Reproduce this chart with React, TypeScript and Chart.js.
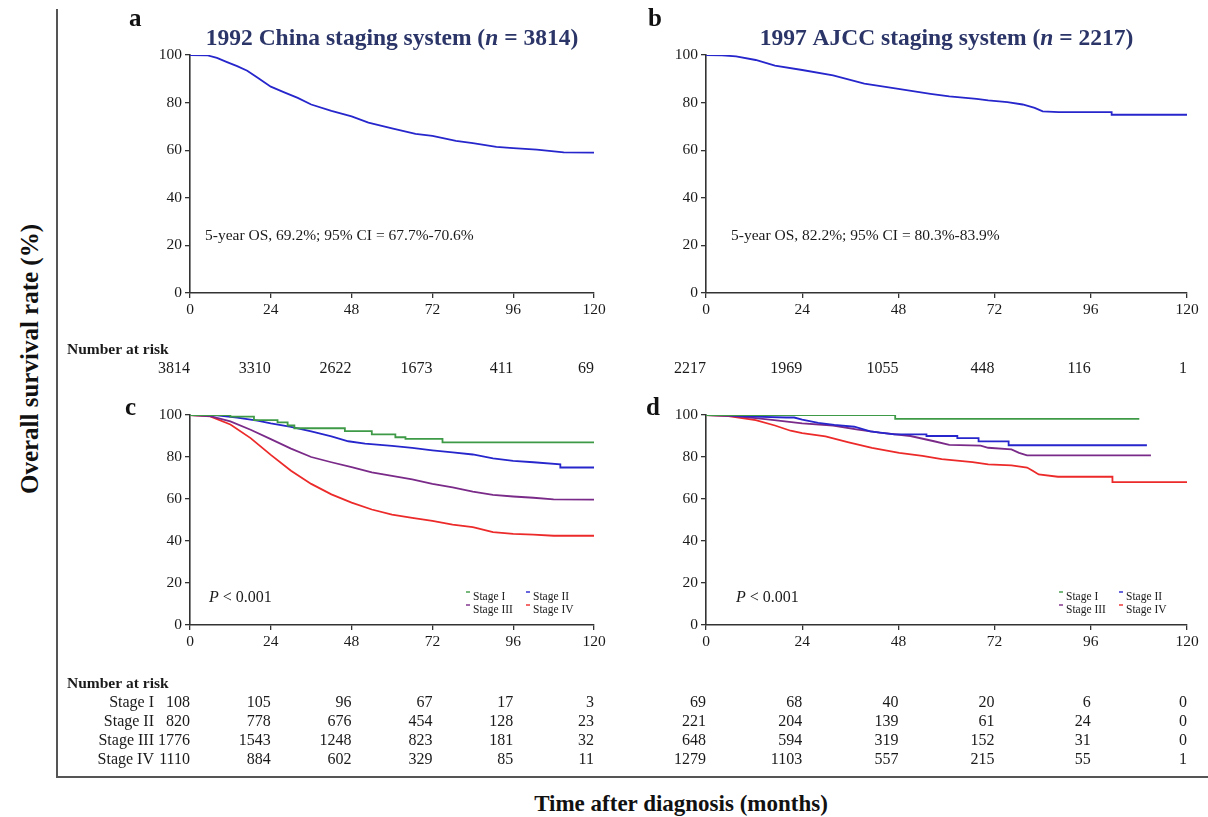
import React, { useEffect, useRef } from "react";
import { Chart, registerables } from "chart.js";

Chart.register(...registerables);

const SERIF = "'Liberation Serif', 'Times New Roman', Times, serif";

// ---------------- data ----------------
const monthTicks = [0, 24, 48, 72, 96, 120];

// a: 1992 China staging system, all patients
const chinaAllMonths = [0, 5, 8, 11, 14, 17, 20, 24, 28, 32, 36, 42, 48, 53, 60, 67, 72, 79, 84, 91, 96, 103, 111, 120];
const chinaAllSurvival = [100, 99.9, 98.8, 97, 95.3, 93.4, 90.5, 86.7, 84.3, 82, 79.2, 76.5, 74.2, 71.6, 69.2, 66.9, 66, 63.9, 63, 61.4, 60.9, 60.2, 59.1, 59];

// b: 1997 AJCC staging system, all patients
const ajccAllMonths = [0, 4, 7.5, 12.4, 17.2, 24, 31.7, 39.5, 48, 56, 60.7, 67.5, 70.4, 75.2, 79, 82, 84, 88, 101.2, 101.2, 120];
const ajccAllSurvival = [100, 99.9, 99.4, 97.9, 95.5, 93.7, 91.4, 88, 85.8, 83.7, 82.6, 81.6, 80.9, 80.2, 79.2, 77.8, 76.3, 76, 76, 74.9, 74.9];

// c: China stages
const chinaS1Months = [0, 12, 12, 19, 19, 26, 26, 29, 29, 31, 31, 46, 46, 54, 54, 61, 61, 64, 64, 75, 75, 120];
const chinaS1Survival = [100, 100, 99.2, 99.2, 97.6, 97.6, 96.5, 96.5, 95, 95, 93.7, 93.7, 92.3, 92.3, 90.8, 90.8, 89.4, 89.4, 88.6, 88.6, 87, 87];
const chinaS2Months = [0, 8, 14, 20, 24, 30, 36, 42, 47, 52, 60, 66, 72, 78, 84, 90, 96, 102, 110, 110, 120];
const chinaS2Survival = [100, 99.8, 98.8, 97.3, 96, 94.3, 92.2, 89.8, 87.5, 86.4, 85.3, 84.3, 83.2, 82.2, 81.2, 79.3, 78.2, 77.5, 76.5, 75, 75];
const chinaS3Months = [0, 6, 12, 18, 24, 30, 36, 42, 48, 54, 60, 66, 72, 78, 84, 90, 96, 102, 108, 120];
const chinaS3Survival = [100, 99.5, 97, 93, 88.5, 84, 80, 77.5, 75.2, 72.7, 71, 69.3, 67.2, 65.5, 63.5, 62, 61.2, 60.6, 59.8, 59.7];
const chinaS4Months = [0, 6, 12, 18, 24, 30, 36, 42, 48, 54, 60, 66, 72, 78, 84, 90, 96, 102, 108, 120];
const chinaS4Survival = [100, 99.3, 95.5, 89, 81, 73.5, 67.2, 62.2, 58.3, 55, 52.6, 51, 49.6, 47.8, 46.6, 44.2, 43.4, 43, 42.5, 42.5];

// d: AJCC stages
const ajccS1Months = [0, 47.2, 47.2, 108.1];
const ajccS1Survival = [100, 100, 98.2, 98.2];
const ajccS2Months = [0, 6, 12, 20, 22, 24, 28, 32, 37, 41, 44, 47, 55, 55, 62.7, 62.7, 68, 68, 75.5, 75.5, 110];
const ajccS2Survival = [100, 99.8, 99.2, 98.8, 98.8, 97.8, 96.3, 95.3, 94.4, 92.2, 91.5, 90.8, 90.8, 90, 90, 89, 89, 87.4, 87.4, 85.6, 85.6];
const ajccS3Months = [0, 6, 12.4, 17, 24, 31.7, 37.5, 43.3, 51, 56.9, 60.7, 68.5, 70.4, 76.2, 78.1, 80.1, 111];
const ajccS3Survival = [100, 99.6, 98.5, 97.6, 96, 95, 93.2, 91.6, 90, 87.5, 85.8, 85.4, 84.4, 83.6, 82, 80.8, 80.8];
const ajccS4Months = [0, 5.6, 12.4, 17.2, 21.1, 24, 29.8, 35.6, 41.4, 48.2, 54, 58.8, 66.5, 70.4, 76.2, 80.1, 81.5, 83, 87.8, 101.4, 101.4, 120];
const ajccS4Survival = [100, 99.5, 97.6, 95, 92.5, 91.4, 89.8, 87, 84.4, 82, 80.5, 79, 77.6, 76.5, 76, 75, 73.5, 71.7, 70.6, 70.6, 68, 68];

// numbers at risk
const stageLabels = ["Stage I", "Stage II", "Stage III", "Stage IV"];
const riskChinaAll = [3814, 3310, 2622, 1673, 411, 69];
const riskAjccAll = [2217, 1969, 1055, 448, 116, 1];
const riskChinaS1 = [108, 105, 96, 67, 17, 3];
const riskChinaS2 = [820, 778, 676, 454, 128, 23];
const riskChinaS3 = [1776, 1543, 1248, 823, 181, 32];
const riskChinaS4 = [1110, 884, 602, 329, 85, 11];
const riskAjccS1 = [69, 68, 40, 20, 6, 0];
const riskAjccS2 = [221, 204, 139, 61, 24, 0];
const riskAjccS3 = [648, 594, 319, 152, 31, 0];
const riskAjccS4 = [1279, 1103, 557, 215, 55, 1];

// ---------------- styles ----------------
const BLUE = "#2626cc";
const GREEN = "#3e9a46";
const PURPLE = "#7a2a88";
const RED = "#ec2a2a";
const TITLE_COLOR = "#2b3568";
const TEXT = "#1a1a1a";
const AXIS = "#333333";
const Y_AXIS_W = 40;
const X_AXIS_H = 30;

type Part = { t: string; italic?: boolean };
type SeriesSpec = { label: string; months: number[]; survival: number[]; color: string };
type PanelSpec = {
  key: string;
  box: { left: number; top: number; width: number; height: number };
  plot: { left: number; right: number; top: number; bottom: number };
  letter: { t: string; x: number; y: number };
  title?: Part[];
  note: { parts: Part[]; dx: number; dyFromBottom: number; size: number };
  legend?: boolean;
  series: SeriesSpec[];
  risk: { headerY?: number; rowYs: number[]; labels?: string[]; rows: number[][] };
};

function drawParts(ctx: CanvasRenderingContext2D, parts: Part[], x: number, y: number, weight: string, size: number, align: "left" | "center") {
  const fonts = parts.map((p) => `${p.italic ? "italic " : ""}${weight} ${size}px ${SERIF}`);
  const widths = parts.map((p, i) => {
    ctx.font = fonts[i];
    return ctx.measureText(p.t).width;
  });
  const total = widths.reduce((a, b) => a + b, 0);
  let cx = align === "center" ? x - total / 2 : x;
  ctx.textAlign = "left";
  parts.forEach((p, i) => {
    ctx.font = fonts[i];
    ctx.fillText(p.t, cx, y);
    cx += widths[i];
  });
}

function makePlugin(spec: PanelSpec) {
  return {
    id: "panelText_" + spec.key,
    afterDraw(chart: any) {
      const ctx: CanvasRenderingContext2D = chart.ctx;
      const area = chart.chartArea;
      const xs = chart.scales.x;
      const X = (px: number) => px - spec.box.left;
      const Y = (py: number) => py - spec.box.top;
      ctx.save();
      ctx.textBaseline = "alphabetic";
      // panel letter
      ctx.fillStyle = "#111";
      ctx.font = `bold 25px ${SERIF}`;
      ctx.textAlign = "left";
      ctx.fillText(spec.letter.t, X(spec.letter.x), Y(spec.letter.y));
      // title
      if (spec.title) {
        ctx.fillStyle = TITLE_COLOR;
        drawParts(ctx, spec.title, (area.left + area.right) / 2, Y(45), "bold", 23.5, "center");
      }
      // note
      ctx.fillStyle = TEXT;
      drawParts(ctx, spec.note.parts, area.left + spec.note.dx, area.bottom - spec.note.dyFromBottom, "", spec.note.size, "left");
      // legend
      if (spec.legend) {
        const colsX = [area.right - 121, area.right - 61];
        const rowsY = [area.bottom - 28, area.bottom - 15];
        spec.series.forEach((s, i) => {
          const tx = colsX[i % 2];
          const ty = rowsY[Math.floor(i / 2)];
          ctx.strokeStyle = s.color;
          ctx.lineWidth = 1.4;
          ctx.beginPath();
          ctx.moveTo(tx - 7, ty - 5);
          ctx.lineTo(tx - 3, ty - 5);
          ctx.stroke();
          ctx.fillStyle = TEXT;
          ctx.font = `11.5px ${SERIF}`;
          ctx.textAlign = "left";
          ctx.textBaseline = "middle";
          ctx.fillText(s.label, tx, ty);
        });
        ctx.textBaseline = "alphabetic";
      }
      // number at risk table
      ctx.textBaseline = "middle";
      ctx.fillStyle = TEXT;
      if (spec.risk.headerY !== undefined) {
        ctx.font = `bold 15.5px ${SERIF}`;
        ctx.textAlign = "left";
        ctx.fillText("Number at risk", X(67), Y(spec.risk.headerY));
      }
      ctx.font = `16px ${SERIF}`;
      spec.risk.rows.forEach((row, r) => {
        const y = Y(spec.risk.rowYs[r]);
        if (spec.risk.labels) {
          ctx.textAlign = "right";
          ctx.fillText(spec.risk.labels[r], X(154), y);
        }
        ctx.textAlign = "right";
        row.forEach((v, i) => {
          ctx.fillText(String(v), xs.getPixelForValue(monthTicks[i]), y);
        });
      });
      ctx.restore();
    },
  };
}

function Panel({ spec }: { spec: PanelSpec }) {
  const ref = useRef<HTMLCanvasElement>(null);
  useEffect(() => {
    const canvas = ref.current;
    if (!canvas) return;
    const { box, plot } = spec;
    const padLeft = plot.left - box.left - Y_AXIS_W;
    const padTop = plot.top - box.top;
    const padRight = box.left + box.width - plot.right;
    const padBottom = box.top + box.height - plot.bottom - X_AXIS_H;
    const tickFont = { family: SERIF, size: 15.5 };
    const chart = new Chart(canvas, {
      type: "line",
      data: {
        datasets: spec.series.map((s) => ({
          label: s.label,
          data: s.months.map((m, i) => ({ x: m, y: s.survival[i] })),
          borderColor: s.color,
          backgroundColor: s.color,
          borderWidth: 1.8,
          pointRadius: 0,
          fill: false,
          tension: 0,
        })),
      },
      options: {
        responsive: false,
        animation: false,
        events: [],
        layout: { padding: { left: padLeft, top: padTop, right: padRight, bottom: padBottom } },
        plugins: { legend: { display: false }, tooltip: { enabled: false }, title: { display: false } },
        scales: {
          x: {
            type: "linear",
            min: 0,
            max: 120,
            ticks: { stepSize: 24, color: TEXT, font: tickFont, padding: 3, maxRotation: 0, autoSkip: false },
            grid: { drawOnChartArea: false, drawTicks: true, tickLength: 5, color: AXIS, lineWidth: 1.3 },
            border: { display: true, color: AXIS, width: 1.6 },
            afterFit: (s: any) => {
              s.height = X_AXIS_H;
            },
          },
          y: {
            type: "linear",
            min: 0,
            max: 100,
            ticks: { stepSize: 20, color: TEXT, font: tickFont, padding: 3 },
            grid: { drawOnChartArea: false, drawTicks: true, tickLength: 5, color: AXIS, lineWidth: 1.3 },
            border: { display: true, color: AXIS, width: 1.6 },
            afterFit: (s: any) => {
              s.width = Y_AXIS_W;
            },
          },
        },
      } as any,
      plugins: [makePlugin(spec) as any],
    });
    return () => chart.destroy();
  }, [spec]);
  return (
    <canvas
      ref={ref}
      width={spec.box.width}
      height={spec.box.height}
      style={{ position: "absolute", left: spec.box.left, top: spec.box.top, width: spec.box.width, height: spec.box.height }}
    />
  );
}

const stageSeries = (m: number[][], s: number[][]): SeriesSpec[] =>
  stageLabels.map((label, i) => ({ label, months: m[i], survival: s[i], color: [GREEN, BLUE, PURPLE, RED][i] }));

const panels: PanelSpec[] = [
  {
    key: "a",
    box: { left: 60, top: 0, width: 550, height: 380 },
    plot: { left: 190, right: 594, top: 55, bottom: 293 },
    letter: { t: "a", x: 129, y: 26 },
    title: [{ t: "1992 China staging system (" }, { t: "n", italic: true }, { t: " = 3814)" }],
    note: { parts: [{ t: "5-year OS, 69.2%; 95% CI = 67.7%-70.6%" }], dx: 15, dyFromBottom: 53, size: 15.5 },
    series: [{ label: "All", months: chinaAllMonths, survival: chinaAllSurvival, color: BLUE }],
    risk: { headerY: 350, rowYs: [369], rows: [riskChinaAll] },
  },
  {
    key: "b",
    box: { left: 610, top: 0, width: 598, height: 380 },
    plot: { left: 706, right: 1187, top: 55, bottom: 293 },
    letter: { t: "b", x: 648, y: 26 },
    title: [{ t: "1997 AJCC staging system (" }, { t: "n", italic: true }, { t: " = 2217)" }],
    note: { parts: [{ t: "5-year OS, 82.2%; 95% CI = 80.3%-83.9%" }], dx: 25, dyFromBottom: 53, size: 15.5 },
    series: [{ label: "All", months: ajccAllMonths, survival: ajccAllSurvival, color: BLUE }],
    risk: { rowYs: [369], rows: [riskAjccAll] },
  },
  {
    key: "c",
    box: { left: 60, top: 380, width: 550, height: 397 },
    plot: { left: 190, right: 594, top: 415, bottom: 625 },
    letter: { t: "c", x: 125, y: 415 },
    note: { parts: [{ t: "P", italic: true }, { t: " < 0.001" }], dx: 19, dyFromBottom: 23, size: 16 },
    legend: true,
    series: stageSeries(
      [chinaS1Months, chinaS2Months, chinaS3Months, chinaS4Months],
      [chinaS1Survival, chinaS2Survival, chinaS3Survival, chinaS4Survival]
    ),
    risk: { headerY: 684, rowYs: [703, 722, 741, 760], labels: stageLabels, rows: [riskChinaS1, riskChinaS2, riskChinaS3, riskChinaS4] },
  },
  {
    key: "d",
    box: { left: 610, top: 380, width: 598, height: 397 },
    plot: { left: 706, right: 1187, top: 415, bottom: 625 },
    letter: { t: "d", x: 646, y: 415 },
    note: { parts: [{ t: "P", italic: true }, { t: " < 0.001" }], dx: 30, dyFromBottom: 23, size: 16 },
    legend: true,
    series: stageSeries(
      [ajccS1Months, ajccS2Months, ajccS3Months, ajccS4Months],
      [ajccS1Survival, ajccS2Survival, ajccS3Survival, ajccS4Survival]
    ),
    risk: { rowYs: [703, 722, 741, 760], rows: [riskAjccS1, riskAjccS2, riskAjccS3, riskAjccS4] },
  },
];

export default function App() {
  return (
    <div
      style={{
        position: "absolute",
        left: 0,
        top: 0,
        width: 1208,
        height: 817,
        background: "#ffffff",
        overflow: "hidden",
        fontFamily: SERIF,
      }}
    >
      {panels.map((p) => (
        <Panel key={p.key} spec={p} />
      ))}
      {/* frame */}
      <div style={{ position: "absolute", left: 56, top: 9, width: 2, height: 769, background: "#555" }} />
      <div style={{ position: "absolute", left: 56, top: 776, width: 1152, height: 2, background: "#555" }} />
      {/* axis titles */}
      <div
        style={{
          position: "absolute",
          left: 30 - 200,
          top: 359 - 14,
          width: 400,
          height: 28,
          lineHeight: "28px",
          textAlign: "center",
          fontWeight: "bold",
          fontSize: 25,
          color: "#111",
          transform: "rotate(-90deg)",
          transformOrigin: "50% 50%",
          whiteSpace: "nowrap",
        }}
      >
        Overall survival rate (%)
      </div>
      <div
        style={{
          position: "absolute",
          left: 481,
          top: 790,
          width: 400,
          height: 28,
          lineHeight: "28px",
          textAlign: "center",
          fontWeight: "bold",
          fontSize: 23,
          color: "#111",
          whiteSpace: "nowrap",
        }}
      >
        Time after diagnosis (months)
      </div>
    </div>
  );
}
